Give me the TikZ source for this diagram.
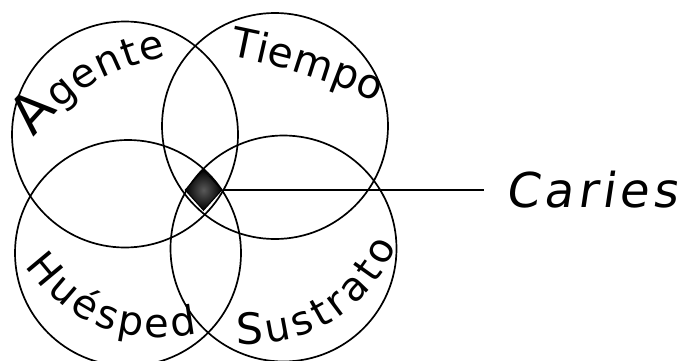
\documentclass[tikz,border=0pt]{standalone}
\usepackage{fontspec}
\newfontfamily\lettering{DejaVu Sans}
\newfontfamily\slantletter{DejaVu Sans}[FakeSlant=0.15,LetterSpace=9]
\usepackage{tikz}
\usetikzlibrary{positioning,shapes.geometric,decorations.text}

\begin{document}
\begin{tikzpicture}[
  x=1pt, y=1pt,
  ring/.style={draw, circle, line width=1.7pt, minimum size=226pt, inner sep=0pt},
  arclabel/.style={decorate, decoration={text along path, text align=fit to path, text={#1}}},
  conn/.style={line width=1.7pt}
]
  \useasboundingbox (0,0) rectangle (687,360);

  % the four factors
  \node[ring] (agente) at (125,225.5) {};
  \node[ring] (tiempo) at (275,234) {};
  \node[ring] (huesped) at (128,107) {};
  \node[ring] (sustrato) at (283.5,111.5) {};

  \path[arclabel={|\lettering\fontsize{54}{54}\selectfont|A|\lettering\fontsize{40}{40}\selectfont|gente}]
    (34,222) to[bend left=19] (166,303);
  \path[arclabel={|\lettering\fontsize{41}{41}\selectfont|Tiempo}]
    (229,304) to[bend left=6] (377,258);
  \path[arclabel={|\lettering\fontsize{40}{40}\selectfont|Huésped}]
    (25,94) to[bend right=33] (198,27);
  \path[arclabel={|\lettering\fontsize{43}{43}\selectfont|S|\lettering\fontsize{40}{40}\selectfont|ustrato}]
    (236,16) to[bend right=34] (397,114);

  % overlap and result
  \node[diamond, minimum width=37pt, minimum height=41pt, inner sep=0pt,
        inner color=black!65, outer color=black, draw, line width=1pt] (nucleo) at (203.5,170) {};
  \node[right=283pt of nucleo, inner sep=0pt, font=\slantletter\fontsize{48}{52}\selectfont] (caries) {Caries};

  \draw[conn] (nucleo) -- ([xshift=-22pt]caries.west);
\end{tikzpicture}
\end{document}
